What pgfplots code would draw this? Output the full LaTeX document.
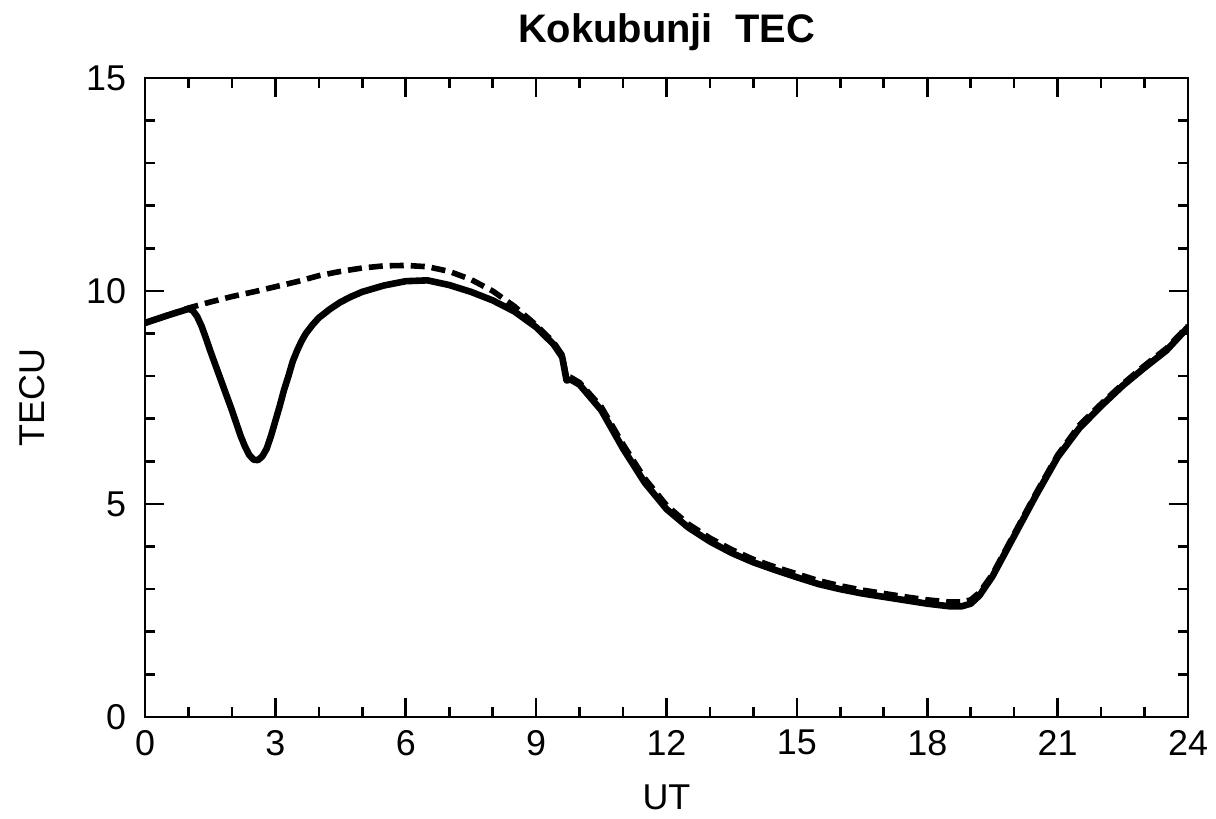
\documentclass[border=0pt]{standalone}
\usepackage{pgfplots}
\pgfplotsset{compat=1.18}
\usepackage{fontspec}
\setmainfont{Liberation Sans}
\begin{document}
\begin{tikzpicture}
\useasboundingbox (-72.5bp,-51bp) rectangle (535.5bp,358.5bp);
\begin{axis}[
  at={(0,0)}, anchor=south west,
  scale only axis,
  width=521.5bp, height=319.5bp,
  xmin=0, xmax=24, ymin=0, ymax=15,
  xtick={0,3,...,24}, ytick={0,5,10,15},
  minor x tick num=2, minor y tick num=4,
  tick align=inside,
  major tick length=9.5bp, minor tick length=5bp,
  axis line style={line width=1.4bp},
  every tick/.style={line width=1.3bp, black},
  /pgf/number format/assume math mode=true,
  tick label style={font=\fontsize{18}{21}\selectfont},
  xticklabel style={yshift=-3bp},
  yticklabel style={xshift=-6bp},
  title={\fontsize{20}{23}\selectfont\bfseries Kokubunji\ \ TEC},
  title style={yshift=4bp},
  xlabel={UT}, ylabel={TECU},
  label style={font=\fontsize{18}{21}\selectfont},
  xlabel style={yshift=-8bp},
  ylabel style={yshift=14bp},
]
\addplot[black, line width=2.8bp, dash pattern=on 7bp off 3.5bp] coordinates {
(0,9.25) (0.5,9.42) (1,9.6) (1.5,9.74) (2,9.87) (2.5,9.98) (3,10.1) (3.5,10.22)
(4,10.36) (4.5,10.46) (5,10.54) (5.5,10.59) (6,10.6) (6.5,10.57) (7,10.46)
(7.5,10.27) (8,10.0) (8.5,9.64) (9,9.2) (9.4,8.8) (9.6,8.5) (9.7,7.95) (9.8,7.97)
(10,7.85) (10.5,7.28) (11,6.4) (11.5,5.6) (12,4.97) (12.5,4.53) (13,4.2)
(13.5,3.93) (14,3.7) (14.5,3.52) (15,3.36) (15.5,3.2) (16,3.08) (16.5,2.98)
(17,2.9) (17.5,2.82) (18,2.75) (18.5,2.7) (18.8,2.7) (19,2.75) (19.2,2.92)
(19.5,3.35) (20,4.3) (20.5,5.25) (21,6.15) (21.5,6.85) (22,7.35) (22.5,7.82)
(23,8.25) (23.5,8.65) (24,9.18)
};
\addplot[black, line width=3.3bp, line join=round, line cap=round] coordinates {
(0,9.25) (0.5,9.42) (1.0,9.58) (1.1,9.54) (1.2,9.4) (1.3,9.18) (1.4,8.9)
(1.5,8.6) (1.75,7.9) (2.0,7.2) (2.1,6.9) (2.2,6.6) (2.3,6.35) (2.4,6.15)
(2.5,6.04) (2.6,6.03) (2.7,6.12) (2.8,6.3) (2.9,6.6) (3.0,6.95) (3.1,7.3)
(3.2,7.68) (3.3,8.0) (3.4,8.35) (3.5,8.6) (3.6,8.82) (3.7,9.0) (3.85,9.2)
(4.0,9.37) (4.25,9.57) (4.5,9.74) (4.75,9.87) (5.0,9.98) (5.5,10.13)
(6.0,10.23) (6.5,10.25) (7.0,10.14) (7.5,9.98) (8.0,9.78) (8.5,9.52) (9.0,9.15)
(9.4,8.75) (9.6,8.45) (9.7,7.9) (9.8,7.92) (10.0,7.8) (10.5,7.2) (11.0,6.3)
(11.5,5.5) (12.0,4.88) (12.5,4.45) (13.0,4.12) (13.5,3.85) (14.0,3.63)
(14.5,3.45) (15.0,3.28) (15.5,3.12) (16.0,3.0) (16.5,2.9) (17.0,2.82)
(17.5,2.74) (18.0,2.66) (18.5,2.6) (18.8,2.6) (19.0,2.66) (19.2,2.85)
(19.5,3.3) (20.0,4.25) (20.5,5.2) (21.0,6.1) (21.5,6.78) (22.0,7.3)
(22.5,7.78) (23.0,8.2) (23.5,8.6) (24.0,9.15)
};
\end{axis}
\end{tikzpicture}
\end{document}
